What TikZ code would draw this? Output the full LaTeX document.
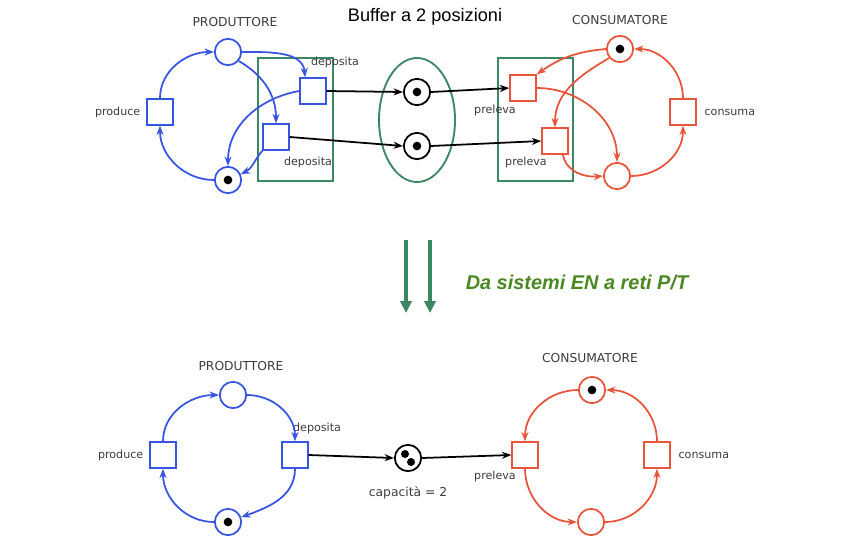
\documentclass[tikz,border=0pt]{standalone}
\usepackage{fontspec}
\setmainfont{DejaVu Sans}
\newfontfamily\arialfont{Liberation Sans}
\usetikzlibrary{arrows.meta}

\definecolor{pnblue}{RGB}{55,85,225}
\definecolor{pnred}{RGB}{232,85,60}
\definecolor{boxgreen}{RGB}{60,135,100}
\definecolor{txtgreen}{RGB}{75,135,35}
\definecolor{lblgray}{RGB}{60,60,60}

\tikzset{
    place/.style={circle, draw, line width=1.5pt, fill=white, minimum size=7.9mm, inner sep=0pt},
    trans/.style={rectangle, draw, line width=1.5pt, fill=white, minimum size=7.7mm, inner sep=0pt},
    marked/.style={path picture={\fill[black] (path picture bounding box.center) circle (1.3mm);}},
    markedtwo/.style={path picture={
        \fill[black] ([shift={(-0.9mm,1.2mm)}]path picture bounding box.center) circle (1.2mm);
        \fill[black] ([shift={(0.9mm,-1.2mm)}]path picture bounding box.center) circle (1.2mm);}},
    arc/.style={line width=1.5pt, -{Stealth[length=8pt,width=6pt]}},
    lbl/.style={text=lblgray, font=\fontsize{9.5}{11}\selectfont},
    title/.style={text=lblgray, font=\fontsize{10.5}{12}\selectfont},
    greenbox/.style={draw=boxgreen, line width=1.6pt},
    bigarrow/.style={draw=boxgreen, line width=2.6pt, -{Triangle[length=3.6mm,width=3.4mm]}}
}

\begin{document}
\begin{tikzpicture}[x=0.03cm, y=-0.03cm]
    \useasboundingbox (0,0) rectangle (849,555);

    % --- TOP: sistema EN ---
    \node[font=\arialfont\fontsize{15.5}{18}\selectfont] (buftitle) at (425,17) {Buffer a 2 posizioni};
    \node[title] (prodtitle) at (235,22) {PRODUTTORE};
    \node[title] (constitle) at (620,20) {CONSUMATORE};

    \draw[greenbox] (258,58) rectangle (333,181);
    \draw[greenbox] (498,58) rectangle (573,181);
    \draw[greenbox] (417,120) ellipse [x radius=38, y radius=62];

    \node[place, draw=pnblue] (pa) at (228,52) {};
    \node[place, draw=pnblue, marked] (pb) at (228,180) {};
    \node[trans, draw=pnblue] (produce) at (160,112) {};
    \node[trans, draw=pnblue] (depa) at (313,91) {};
    \node[trans, draw=pnblue] (depb) at (276,137) {};
    \node[lbl, anchor=east] at (produce.west) {produce\,};
    \node[lbl] at (335,62) {deposita};
    \node[lbl] at (308,162) {deposita};

    \node[place, draw=black, marked] (bufa) at (417,92) {};
    \node[place, draw=black, marked] (bufb) at (417,146) {};

    \node[place, draw=pnred, marked] (ca) at (620,49) {};
    \node[place, draw=pnred] (cb) at (617,176) {};
    \node[trans, draw=pnred] (prea) at (523,88) {};
    \node[trans, draw=pnred] (preb) at (555,141) {};
    \node[trans, draw=pnred] (consuma) at (683,112) {};
    \node[lbl] at (495,110) {preleva};
    \node[lbl] at (526,162) {preleva};
    \node[lbl, anchor=west] at (consuma.east) {\,\,consuma};

    \draw[arc, pnblue] (produce.north) to[out=90, in=180] (pa.west);
    \draw[arc, pnblue] (pa.east) to[out=0, in=95] (depa.120);
    \draw[arc, pnblue] (pa.-40) to[out=-30, in=90] (depb.north);
    \draw[arc, pnblue] (depa.west) to[out=190, in=90] (pb.north);
    \draw[arc, pnblue] (depb.south west) to[out=-130, in=25] (pb.25);
    \draw[arc, pnblue] (pb.west) to[out=180, in=-90] (produce.south);

    \draw[arc, black] (depa.east) -- (bufa.west);
    \draw[arc, black] (depb.east) -- (bufb.west);
    \draw[arc, black] (bufa.east) -- (prea.west);
    \draw[arc, black] (bufb.east) -- (preb.west);

    \draw[arc, pnred] (ca.west) to[out=185, in=35] (prea.north east);
    \draw[arc, pnred] (ca.-140) to[out=-150, in=90] (preb.north);
    \draw[arc, pnred] (prea.east) to[out=0, in=90] (cb.north);
    \draw[arc, pnred] (preb.-60) to[out=-80, in=185] (cb.west);
    \draw[arc, pnred] (cb.east) to[out=0, in=-90] (consuma.south);
    \draw[arc, pnred] (consuma.north) to[out=90, in=0] (ca.east);

    % --- MIDDLE: trasformazione ---
    \coordinate (arrowa) at (406,240);
    \coordinate (arrowb) at (430,240);
    \draw[bigarrow] (arrowa) -- ++(0,73);
    \draw[bigarrow] (arrowb) -- ++(0,73);
    \node[text=txtgreen, font=\arialfont\bfseries\itshape\fontsize{17}{20}\selectfont] (subtitle) at (577,282) {Da sistemi EN a reti P/T};

    % --- BOTTOM: rete P/T ---
    \node[title] (prodtitleb) at (241,366) {PRODUTTORE};
    \node[title] (constitleb) at (590,358) {CONSUMATORE};

    \node[place, draw=pnblue] (pc) at (233,395) {};
    \node[place, draw=pnblue, marked] (pd) at (228,522) {};
    \node[trans, draw=pnblue] (produceb) at (163,455) {};
    \node[trans, draw=pnblue] (depc) at (295,455) {};
    \node[lbl, anchor=east] at (produceb.west) {produce\,};
    \node[lbl, anchor=west] at (289,428) {deposita};

    \node[place, draw=black, markedtwo] (buf) at (408,458) {};
    \node[lbl, font=\fontsize{10.5}{12}\selectfont] at (408,493) {capacità = 2};

    \node[place, draw=pnred, marked] (cc) at (592,390) {};
    \node[place, draw=pnred] (cd) at (591,522) {};
    \node[trans, draw=pnred] (prec) at (525,455) {};
    \node[trans, draw=pnred] (consumab) at (657,455) {};
    \node[lbl] at (495,476) {preleva};
    \node[lbl, anchor=west] at (consumab.east) {\,\,consuma};

    \draw[arc, pnblue] (produceb.north) to[out=90, in=180] (pc.west);
    \draw[arc, pnblue] (pc.east) to[out=0, in=90] (depc.north);
    \draw[arc, pnblue] (depc.south) to[out=-90, in=20] (pd.20);
    \draw[arc, pnblue] (pd.west) to[out=180, in=-90] (produceb.south);

    \draw[arc, black] (depc.east) -- (buf.west);
    \draw[arc, black] (buf.east) -- (prec.west);

    \draw[arc, pnred] (cc.west) to[out=180, in=90] (prec.north);
    \draw[arc, pnred] (prec.south) to[out=-90, in=180] (cd.west);
    \draw[arc, pnred] (cd.east) to[out=0, in=-90] (consumab.south);
    \draw[arc, pnred] (consumab.north) to[out=90, in=0] (cc.east);

\end{tikzpicture}
\end{document}
